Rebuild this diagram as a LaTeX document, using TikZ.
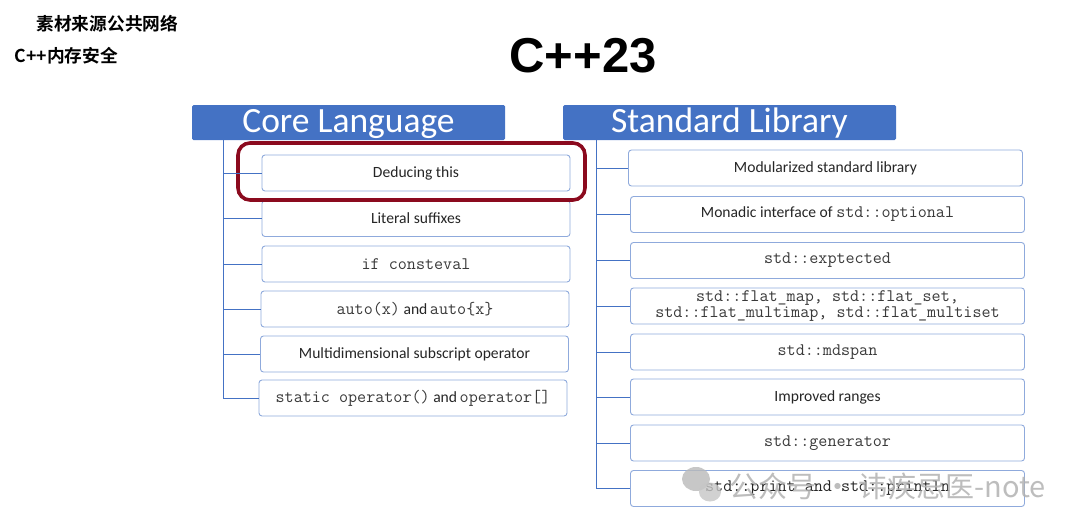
\documentclass[tikz,border=0pt]{standalone}
\usepackage{fontspec}
\setmainfont{Carlito}
\newfontfamily\monof{Latin Modern Mono}
\newfontfamily\arialf{Liberation Sans}
\newfontfamily\cjkf{Noto Sans CJK SC}[BoldFont={Noto Sans CJK SC Bold}]
\definecolor{hdr}{HTML}{4472C4}
\definecolor{bx}{HTML}{8FAADC}
\definecolor{hl}{HTML}{8B0A1E}
\definecolor{monogrey}{HTML}{3A3A3A}
\newcommand\mcode[1]{{\monof\fontsize{17.6}{18}\selectfont #1}}
\begin{document}
\begin{tikzpicture}[x=1pt,y=-1pt,
 hdrbox/.style={fill=hdr, draw=none, rounded corners=1.5pt, text=white,
   font=\fontsize{35.5}{35}\selectfont, inner sep=0pt, minimum height=35pt,
   text height=26pt, text depth=6pt},
 item/.style={draw=bx, line width=0.9pt, rounded corners=3pt, fill=white,
   font=\fontsize{15.6}{17}\selectfont, text=black!85, align=center,
   inner sep=0pt, minimum height=36pt},
 litem/.style={item, minimum width=308pt},
 ritem/.style={item, minimum width=394pt},
 conn/.style={draw=hdr, line width=0.8pt},
 hilite/.style={draw=hl, line width=3.6pt, rounded corners=12pt}
]
\useasboundingbox (0,0) rectangle (1080,528);

% corner captions
\node[font=\cjkf\bfseries\fontsize{17.7}{18}\selectfont, anchor=west] (cap1) at (33,24) {素材来源公共网络};
\node[font=\cjkf\bfseries\fontsize{17.7}{18}\selectfont, anchor=west] (cap2) at (11,56) {C++内存安全};

% title
\node[font=\arialf\bfseries\fontsize{49}{49}\selectfont] (title) at (583,56) {C++23};

% headers
\node[hdrbox, minimum width=313pt] (core) at (348.5,122.5) {Core Language};
\node[hdrbox, minimum width=333pt] (std) at (729.5,122.5) {Standard Library};

% left items
\node[litem] (l1) at (416,173) {Deducing this};
\node[litem] (l2) at (416,218.5) {Literal suffixes};
\node[litem] (l3) at (416,264) {\mcode{\textcolor{monogrey}{if consteval}}};
\node[litem] (l4) at (415,309) {\mcode{\textcolor{monogrey}{auto(x)}} and\,\mcode{\textcolor{monogrey}{auto\{x\}}}};
\node[litem] (l5) at (414.5,354) {Multidimensional subscript operator};
\node[litem] (l6) at (413,398) {\mcode{\textcolor{monogrey}{static operator()}} and\,\mcode{\textcolor{monogrey}{operator[]}}};

% highlight
\node[hilite, minimum width=347pt, minimum height=57pt] (hl) at (411.5,171.5) {};

% left connectors
\coordinate (ltop) at (223,140);
\draw[conn] (ltop) -- (ltop |- l6.west);
\foreach \n in {l1,l2,l3,l4,l5,l6} \draw[conn] (ltop |- \n.west) -- (\n.west);

% right items
\node[ritem] (r1) at (825.5,168) {Modularized standard library};
\node[ritem] (r2) at (827.5,214.5) {Monadic interface of \mcode{\textcolor{monogrey}{std::optional}}};
\node[ritem] (r3) at (827.5,260.5) {\mcode{\textcolor{monogrey}{std::exptected}}};
\node[ritem] (r4) at (827.5,306) {\mcode{\textcolor{monogrey}{std::flat\_map, std::flat\_set,}}\\[-1pt]\mcode{\textcolor{monogrey}{std::flat\_multimap, std::flat\_multiset}}};
\node[ritem] (r5) at (827.5,352) {\mcode{\textcolor{monogrey}{std::mdspan}}};
\node[ritem] (r6) at (827.5,397) {Improved ranges};
\node[ritem] (r7) at (827.5,443) {\mcode{\textcolor{monogrey}{std::generator}}};
\node[ritem] (r8) at (827.5,488.5) {\mcode{std::print and std::println}};

% right connectors
\coordinate (rtop) at (596,140);
\draw[conn] (rtop) -- (rtop |- r8.west);
\foreach \n in {r1,r2,r3,r4,r5,r6,r7,r8} \draw[conn] (rtop |- \n.west) -- (\n.west);

% watermark
\fill[gray!55, opacity=0.8] (696,479) ellipse (14pt and 12pt);
\fill[gray!45, opacity=0.8] (710,492) ellipse (11pt and 9.5pt);
\node[anchor=west, text=gray!60, opacity=0.85, font=\cjkf\fontsize{29}{29}\selectfont] (wm) at (726,486) {公众号 · 讳疾忌医-note};
\end{tikzpicture}
\end{document}
